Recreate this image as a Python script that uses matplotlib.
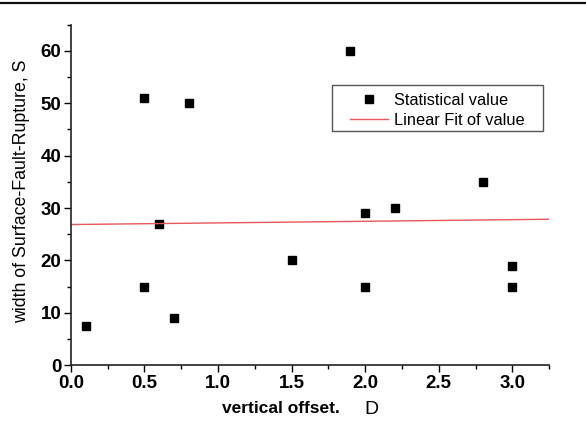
import numpy as np
import matplotlib
matplotlib.use("Agg")
import matplotlib.pyplot as plt
from matplotlib.ticker import MultipleLocator
from matplotlib.lines import Line2D
from matplotlib.patches import Rectangle

offset_D = [0.1, 0.5, 0.5, 0.6, 0.7, 0.8, 1.5, 1.9, 2.0, 2.0, 2.2, 2.8, 3.0, 3.0]
width_S = [7.5, 51, 15, 27, 9, 50, 20, 60, 29, 15, 30, 35, 19, 15]

plt.rcParams['font.family'] = ['Liberation Sans', 'DejaVu Sans']

fig = plt.figure(figsize=(5.86, 4.43), dpi=100)
ax = fig.add_axes([0.121, 0.176, 0.816, 0.768])

ax.plot(offset_D, width_S, 's', color='black', ms=5.5, label='Statistical value')
slope, inter = np.polyfit(offset_D, width_S, 1)
xf = np.array([0, 3.25])
ax.plot(xf, inter + slope * xf, color='#e8575a', lw=1.0, label='Linear Fit of value')

ax.set_xlim(0, 3.25)
ax.set_ylim(0, 65)
ax.xaxis.set_major_locator(MultipleLocator(0.5))
ax.xaxis.set_minor_locator(MultipleLocator(0.25))
ax.yaxis.set_major_locator(MultipleLocator(10))
ax.yaxis.set_minor_locator(MultipleLocator(5))
for s in ['top', 'right']:
    ax.spines[s].set_visible(False)
for s in ['left', 'bottom']:
    ax.spines[s].set_linewidth(1.2)
    ax.spines[s].set_color('#222222')
ax.tick_params(which='major', length=5, width=1, direction='out', labelsize=13.5, pad=2)
ax.tick_params(which='minor', length=3, width=1, direction='out')
for lab in ax.get_xticklabels() + ax.get_yticklabels():
    lab.set_fontweight('bold')
ax.xaxis.set_major_formatter(matplotlib.ticker.FormatStrFormatter('%.1f'))

ax.set_ylabel('width of Surface-Fault-Rupture, S', fontsize=12.8)
ax.yaxis.set_label_coords(-0.085, 0.51)
fig.text(0.48, 0.077, 'vertical offset.', fontsize=12.5, fontweight='bold', ha='center', va='center')
fig.text(0.633, 0.075, 'D', fontsize=14, ha='center', va='center')

leg = fig.legend(*ax.get_legend_handles_labels(), loc='upper left',
                 bbox_to_anchor=(0.597, 0.790), fontsize=11.8,
                 frameon=False, borderpad=0, borderaxespad=0,
                 handlelength=2.3, labelspacing=0.3, handletextpad=0.4)
fig.add_artist(Rectangle((0.5666, 0.7043), 0.360, 0.1038, transform=fig.transFigure,
                         fill=False, edgecolor='#555555', lw=1.0))

fig.add_artist(Line2D([0, 1], [0.993, 0.993], transform=fig.transFigure, color='#111111', lw=1.6))

fig.savefig('out.png', dpi=100)
